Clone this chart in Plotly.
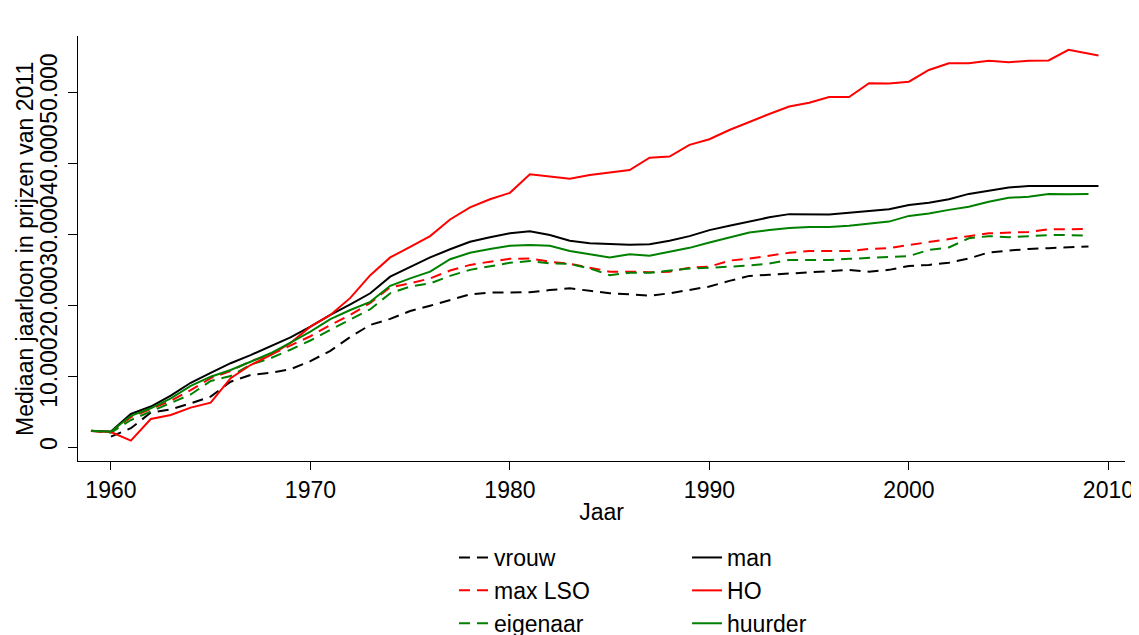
import plotly.graph_objects as go

years = list(range(1959, 2010))
years_vrouw = list(range(1960, 2010))
years_long = list(range(1959, 2009)) + [2009.5]

vrouw = [1450, 2650, 4850, 5300, 6150, 7100, 9200, 10150, 10450, 10950,
         12100, 13550, 15500, 17200, 18050, 19150, 19900, 20700, 21500, 21750,
         21800, 21800, 22100, 22350, 22000, 21650, 21500, 21300, 21650, 22100,
         22600, 23400, 24100, 24250, 24450, 24600, 24850, 24950, 24700, 24950,
         25500, 25650, 25950, 26550, 27400, 27650, 27900, 28000, 28100, 28250]

man = [2250, 2200, 4650, 5700, 7250, 9050, 10450, 11800, 12950, 14150,
       15450, 16950, 18600, 20100, 21650, 24000, 25400, 26700, 27850, 28900,
       29550, 30100, 30400, 29850, 29050, 28700, 28600, 28500, 28550, 29050,
       29700, 30550, 31150, 31750, 32350, 32800, 32800, 32750, 33000, 33300,
       33500, 34100, 34400, 34900, 35650, 36100, 36550, 36750, 36800, 36750,
       36750]

max_lso = [2300, 2100, 4200, 5300, 6500, 8000, 9700, 10700, 12100, 13000,
           14300, 15600, 17200, 18600, 20300, 22500, 23050, 23750, 24850, 25650,
           26100, 26500, 26550, 26100, 25800, 25300, 24700, 24700, 24600, 24700,
           25250, 25400, 26250, 26550, 27000, 27350, 27600, 27600, 27600, 27900,
           28000, 28450, 28900, 29250, 29700, 30100, 30200, 30300, 30650, 30650,
           30700]

ho = [2250, 2100, 900, 3950, 4500, 5550, 6250, 9700, 11550, 12950,
      14650, 16950, 18600, 21000, 24200, 26700, 28200, 29700, 32050, 33750,
      34900, 35800, 38400, 38100, 37800, 38300, 38650, 39000, 40750, 40900,
      42550, 43350, 44650, 45800, 46900, 47950, 48500, 49300, 49300, 51250,
      51200, 51450, 53100, 54050, 54050, 54400, 54200, 54400, 54450, 55950,
      55150]

eigenaar = [2300, 2000, 3800, 5000, 6200, 7400, 9300, 10000, 11600, 12500,
            13700, 15000, 16500, 17900, 19400, 21650, 22600, 23050, 24100, 24950,
            25500, 25950, 26200, 25850, 25800, 25150, 24200, 24550, 24550, 24850,
            25150, 25250, 25400, 25550, 25850, 26350, 26350, 26350, 26500, 26650,
            26700, 26900, 27750, 28100, 29400, 29700, 29550, 29750, 29850, 29850,
            29750]

huurder = [2300, 2150, 4400, 5450, 6850, 8600, 9900, 10850, 12000, 13200,
           14700, 16250, 18000, 19300, 20450, 22700, 23750, 24700, 26450, 27350,
           27900, 28350, 28450, 28350, 27600, 27200, 26700, 27150, 26950, 27500,
           28050, 28800, 29550, 30200, 30550, 30850, 31000, 31000, 31150, 31500,
           31750, 32550, 32900, 33400, 33850, 34550, 35100, 35250, 35650, 35600,
           35650]

y_ticks = [0, 10000, 20000, 30000, 40000, 50000]
y_tick_labels = ["0", "10.000", "20.000", "30.000", "40.000", "50.000"]
x_ticks = [1960, 1970, 1980, 1990, 2000, 2010]
y_title = "Mediaan jaarloon in prijzen van 2011"

RED = "#ff0000"
GREEN = "#008000"
BLACK = "#000000"
DASH = "11px,7px"
FS = 23

series = [
    ("vrouw", years_vrouw, vrouw, BLACK, DASH, "legend"),
    ("max LSO", years, max_lso, RED, DASH, "legend"),
    ("eigenaar", years, eigenaar, GREEN, DASH, "legend"),
    ("man", years_long, man, BLACK, "solid", "legend2"),
    ("HO", years_long, ho, RED, "solid", "legend2"),
    ("huurder", years, huurder, GREEN, "solid", "legend2"),
]

fig = go.Figure()
for name, xs, ys, color, dash, leg in series:
    fig.add_trace(go.Scatter(
        x=xs, y=ys, mode="lines", name=name,
        line=dict(color=color, width=2, dash=dash),
        legend=leg, legendgroup=name,
    ))

font_family = "Arial, Liberation Sans, sans-serif"

fig.update_layout(
    width=1139, height=635,
    margin=dict(l=70, r=22, t=28, b=182, autoexpand=False),
    paper_bgcolor="white", plot_bgcolor="white",
    font=dict(family=font_family, size=FS, color="#000000"),
    showlegend=True,
    legend=dict(
        x=0.3591, y=-0.1765, xanchor="left", yanchor="top",
        orientation="v", tracegroupgap=0,
        font=dict(size=FS), bgcolor="rgba(0,0,0,0)",
    ),
    legend2=dict(
        x=0.5817, y=-0.1765, xanchor="left", yanchor="top",
        orientation="v", tracegroupgap=0,
        font=dict(size=FS), bgcolor="rgba(0,0,0,0)",
    ),
    xaxis=dict(
        range=[1958.35, 2010.83],
        tickmode="array", tickvals=x_ticks,
        ticks="outside", ticklen=8, tickwidth=1, tickcolor="#000",
        showline=True, linecolor="#000", linewidth=1,
        showgrid=False, zeroline=False, automargin=False,
        title=dict(text="Jaar", standoff=2, font=dict(size=FS)),
        tickfont=dict(size=FS),
    ),
    yaxis=dict(
        range=[-1972, 57890],
        tickmode="array", tickvals=y_ticks, ticktext=y_tick_labels,
        tickangle=-90, ticklabelstandoff=2,
        ticks="outside", ticklen=9, tickwidth=1, tickcolor="#000",
        showline=True, linecolor="#000", linewidth=1,
        showgrid=False, zeroline=False, automargin=False,
        tickfont=dict(size=FS),
    ),
    annotations=[dict(
        text=y_title, textangle=-90, showarrow=False,
        xref="paper", yref="paper", x=-0.0511, y=0.5,
        xanchor="center", yanchor="middle",
        font=dict(size=FS, family=font_family, color="#000"),
    )],
)

fig.write_html("out.html")
